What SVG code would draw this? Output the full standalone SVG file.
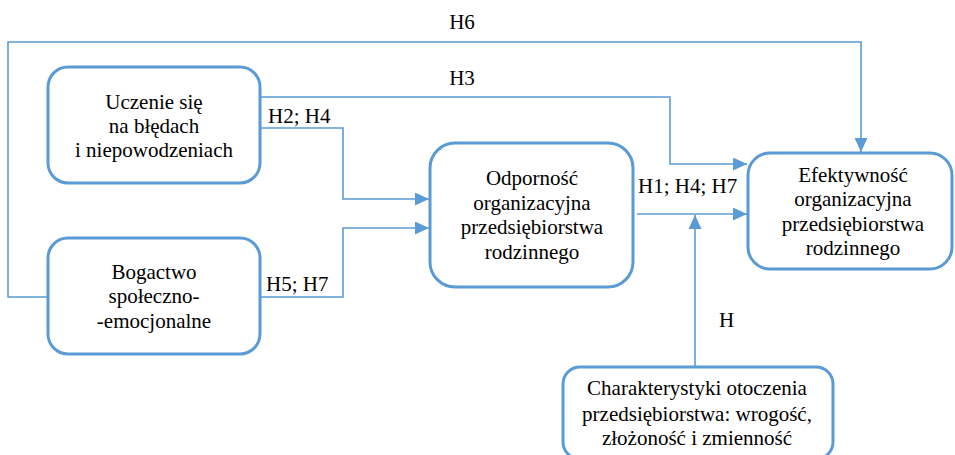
<svg xmlns="http://www.w3.org/2000/svg" width="955" height="455" viewBox="0 0 955 455">
<defs>
<style>
.box{fill:#fff;stroke:#5B9BD5;stroke-width:3}
.ln{fill:none;stroke:#5B9BD5;stroke-width:1.6}
text{font-family:'Liberation Serif','Times New Roman',serif;font-size:21px;fill:#000}
.c{text-anchor:middle}
</style>
<marker id="ah" markerUnits="userSpaceOnUse" markerWidth="14" markerHeight="14" refX="14" refY="6.5" orient="auto">
<path d="M0,0 L14,6.5 L0,13 z" fill="#5B9BD5"/>
</marker>
</defs>
<g id="connectors">
<path class="ln" d="M48,297 H8 V42 H861 V152" marker-end="url(#ah)"/>
<path class="ln" d="M260,97 H670 V164 H747" marker-end="url(#ah)"/>
<path class="ln" d="M260,128 H343 V199 H429" marker-end="url(#ah)"/>
<path class="ln" d="M260,297 H343 V228 H429" marker-end="url(#ah)"/>
<path class="ln" d="M637,214 H747" marker-end="url(#ah)"/>
<path class="ln" d="M695,367 V215" marker-end="url(#ah)"/>
<text x="462" y="29" class="c">H6</text>
<text x="462" y="85" class="c">H3</text>
<text x="268" y="123">H2; H4</text>
<text x="266" y="291">H5; H7</text>
<text x="638" y="193">H1; H4; H7</text>
<text x="719" y="327">H</text>
</g>
<g id="n1">
<rect class="box" x="48" y="67" width="212" height="116" rx="20"/>
<text x="154" y="109" class="c">Uczenie się</text>
<text x="154" y="133" class="c">na błędach</text>
<text x="154" y="157" class="c">i niepowodzeniach</text>
</g>
<g id="n2">
<rect class="box" x="48" y="238" width="212" height="116" rx="20"/>
<text x="154" y="279" class="c">Bogactwo</text>
<text x="154" y="303" class="c">społeczno-</text>
<text x="154" y="328" class="c">-emocjonalne</text>
</g>
<g id="n3">
<rect class="box" x="430" y="143" width="203" height="144" rx="25"/>
<text x="532" y="185" class="c">Odporność</text>
<text x="532" y="210" class="c">organizacyjna</text>
<text x="532" y="234" class="c">przedsiębiorstwa</text>
<text x="532" y="259" class="c">rodzinnego</text>
</g>
<g id="n4">
<rect class="box" x="748" y="153" width="204" height="116" rx="22"/>
<text x="853" y="182" class="c">Efektywność</text>
<text x="853" y="206" class="c">organizacyjna</text>
<text x="853" y="231" class="c">przedsiębiorstwa</text>
<text x="853" y="255" class="c">rodzinnego</text>
</g>
<g id="n5">
<rect class="box" x="563" y="367" width="270" height="92" rx="17"/>
<text x="697" y="395" class="c">Charakterystyki otoczenia</text>
<text x="697" y="421" class="c">przedsiębiorstwa: wrogość,</text>
<text x="697" y="445" class="c">złożoność i zmienność</text>
</g>
</svg>
